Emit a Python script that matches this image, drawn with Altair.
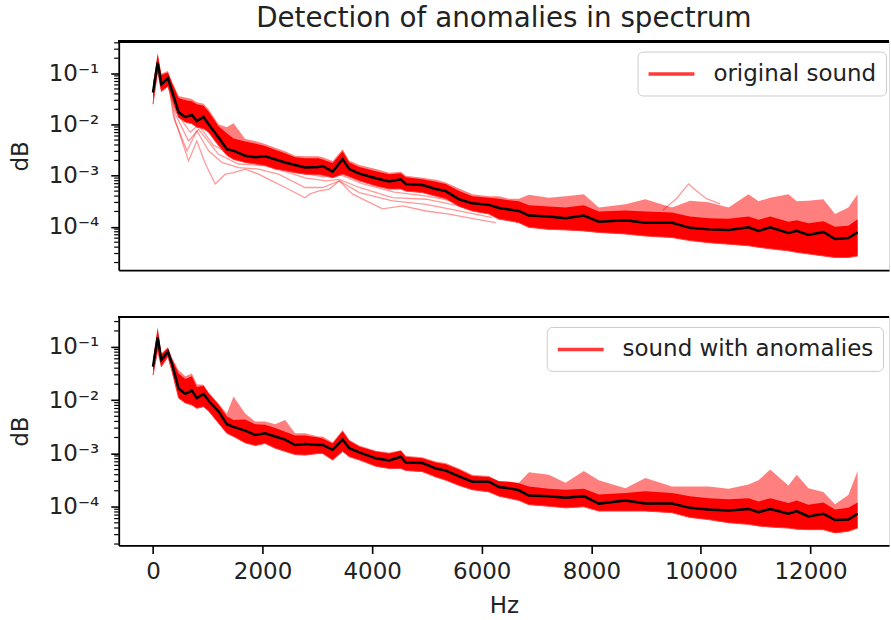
import altair as alt
import pandas as pd

# ---------------- data ----------------
# frequency grid (Hz) shared by both panels
hz = [0, 86, 153, 273, 346, 468, 590, 710, 801, 923,
      1015, 1197, 1348, 1470, 1683, 1865, 2047, 2230, 2412, 2594,
      2776, 3018, 3097, 3279, 3461, 3583, 3765, 4069, 4311, 4524,
      4615, 4918, 5162, 5344, 5587, 5830, 6133, 6315, 6497, 6679,
      6861, 7225, 7530, 7863, 8137, 8623, 8987, 9472, 9800, 10140,
      10505, 10869, 11051, 11264, 11597, 11749, 11962, 12235, 12448, 12691,
      12860]

# all series below are log10 of the value read on the log axis
top_mean_log = [-1.37, -0.785, -1.21, -1.09, -1.34,
                -1.76, -1.85, -1.81, -1.93, -1.85,
                -1.99, -2.25, -2.48, -2.51, -2.61,
                -2.64, -2.62, -2.68, -2.74, -2.79,
                -2.84, -2.83, -2.81, -2.92, -2.68,
                -2.87, -2.96, -3.05, -3.11, -3.07,
                -3.16, -3.18, -3.26, -3.30, -3.46,
                -3.54, -3.57, -3.63, -3.66, -3.69,
                -3.78, -3.80, -3.83, -3.78, -3.90,
                -3.87, -3.92, -3.92, -4.02, -4.05,
                -4.06, -4.01, -4.08, -4.01, -4.12,
                -4.08, -4.16, -4.10, -4.24, -4.22,
                -4.11]
top_upper_log = [-1.20, -0.59, -1.00, -0.95, -1.15,
                 -1.44, -1.47, -1.50, -1.56, -1.59,
                 -1.70, -1.99, -2.05, -1.97, -2.28,
                 -2.32, -2.38, -2.45, -2.52, -2.61,
                 -2.62, -2.62, -2.64, -2.71, -2.48,
                 -2.70, -2.79, -2.87, -2.94, -2.92,
                 -3.00, -3.04, -3.08, -3.13, -3.25,
                 -3.36, -3.40, -3.40, -3.45, -3.45,
                 -3.37, -3.43, -3.40, -3.36, -3.62,
                 -3.56, -3.46, -3.62, -3.49, -3.52,
                 -3.62, -3.36, -3.50, -3.43, -3.36,
                 -3.50, -3.49, -3.46, -3.75, -3.62,
                 -3.36]
top_core_log = [-1.22, -0.62, -1.03, -0.98, -1.18,
                -1.48, -1.52, -1.54, -1.60, -1.63,
                -1.74, -2.03, -2.17, -2.27, -2.33,
                -2.37, -2.42, -2.49, -2.56, -2.64,
                -2.66, -2.66, -2.68, -2.75, -2.52,
                -2.74, -2.83, -2.91, -2.97, -2.95,
                -3.03, -3.07, -3.12, -3.16, -3.30,
                -3.40, -3.43, -3.45, -3.48, -3.50,
                -3.58, -3.60, -3.62, -3.58, -3.70,
                -3.68, -3.70, -3.72, -3.80, -3.83,
                -3.84, -3.80, -3.86, -3.80, -3.90,
                -3.87, -3.93, -3.89, -4.00, -3.98,
                -3.85]
top_lower_log = [-1.60, -0.95, -1.35, -1.25, -1.50,
                 -1.86, -1.95, -1.98, -2.05, -2.08,
                 -2.15, -2.41, -2.60, -2.68, -2.74,
                 -2.77, -2.80, -2.87, -2.90, -2.94,
                 -2.97, -2.98, -2.99, -3.04, -2.97,
                 -3.02, -3.10, -3.20, -3.26, -3.26,
                 -3.30, -3.33, -3.40, -3.45, -3.60,
                 -3.69, -3.75, -3.85, -3.88, -3.92,
                 -4.01, -4.05, -4.06, -4.08, -4.11,
                 -4.14, -4.18, -4.21, -4.27, -4.31,
                 -4.34, -4.37, -4.40, -4.43, -4.47,
                 -4.50, -4.53, -4.57, -4.60, -4.60,
                 -4.57]

# separate faint spectra of the top panel (Hz, log10 value)
top_outliers = {
    "A": [(300, -1.30), (408, -1.93), (650, -2.71), (800, -2.32), (950, -2.75), (1136, -3.16),
          (1318, -2.97), (1470, -2.94), (1683, -2.87), (1925, -2.97), (2170, -3.10),
          (2412, -3.23), (2776, -3.43), (2855, -3.36), (3018, -3.30), (3219, -3.26),
          (3400, -3.10), (3643, -3.36), (4190, -3.65), (4554, -3.59), (4985, -3.69),
          (5405, -3.75), (5890, -3.85), (6255, -3.92)],
    "B": [(290, -1.25), (377, -1.86), (620, -2.51), (801, -2.12), (1015, -2.51), (1257, -2.74),
          (1561, -2.84), (1925, -2.87), (2290, -2.97), (2776, -3.23), (3097, -3.23),
          (3400, -3.10), (3765, -3.33), (4372, -3.49), (4985, -3.56), (5587, -3.69),
          (6194, -3.82)],
    "C": [(280, -1.20), (408, -1.79), (650, -2.32), (832, -2.09), (1197, -2.58), (1561, -2.77),
          (2108, -2.81), (2776, -3.04), (3158, -3.10), (3400, -3.07), (3765, -3.23),
          (4372, -3.43), (4985, -3.46), (5587, -3.59), (6255, -3.75)],
    "D": [(280, -1.18), (420, -1.75), (680, -2.15), (830, -2.00), (1100, -2.40), (1500, -2.62),
          (2000, -2.72), (2600, -2.92), (3100, -3.02), (3420, -2.98), (3800, -3.15),
          (4400, -3.32), (5000, -3.40), (5600, -3.52), (6200, -3.70)],
    "E": [(9300, -3.68), (9550, -3.45), (9776, -3.16), (9900, -3.28), (10100, -3.45),
          (10350, -3.55)],
}

bot_mean_log = [-1.37, -0.82, -1.24, -1.09, -1.31,
                -1.78, -1.88, -1.82, -1.96, -1.88,
                -2.01, -2.21, -2.45, -2.50, -2.57,
                -2.65, -2.62, -2.68, -2.74, -2.84,
                -2.82, -2.84, -2.84, -2.93, -2.74,
                -2.90, -2.98, -3.09, -3.13, -3.06,
                -3.17, -3.18, -3.28, -3.32, -3.43,
                -3.53, -3.53, -3.63, -3.65, -3.69,
                -3.79, -3.80, -3.83, -3.80, -3.94,
                -3.88, -3.94, -3.94, -4.02, -4.05,
                -4.07, -4.04, -4.10, -4.04, -4.13,
                -4.08, -4.18, -4.13, -4.25, -4.24,
                -4.13]
bot_upper_log = [-1.21, -0.62, -1.12, -1.00, -1.20,
                 -1.43, -1.55, -1.50, -1.70, -1.71,
                 -1.85, -2.06, -2.25, -1.93, -2.25,
                 -2.40, -2.40, -2.45, -2.37, -2.62,
                 -2.62, -2.68, -2.68, -2.79, -2.56,
                 -2.74, -2.85, -2.95, -2.98, -2.94,
                 -3.04, -3.07, -3.15, -3.18, -3.28,
                 -3.40, -3.42, -3.52, -3.53, -3.55,
                 -3.35, -3.40, -3.55, -3.33, -3.50,
                 -3.65, -3.46, -3.62, -3.62, -3.62,
                 -3.66, -3.58, -3.50, -3.30, -3.60,
                 -3.40, -3.65, -3.72, -3.95, -3.78,
                 -3.33]
bot_core_log = [-1.25, -0.66, -1.14, -1.02, -1.22,
                -1.50, -1.60, -1.55, -1.75, -1.73,
                -1.87, -2.08, -2.30, -2.37, -2.36,
                -2.45, -2.46, -2.52, -2.59, -2.66,
                -2.66, -2.70, -2.72, -2.81, -2.58,
                -2.76, -2.87, -2.96, -3.00, -2.95,
                -3.06, -3.09, -3.17, -3.20, -3.30,
                -3.42, -3.44, -3.52, -3.53, -3.56,
                -3.62, -3.66, -3.68, -3.66, -3.77,
                -3.74, -3.71, -3.74, -3.80, -3.84,
                -3.86, -3.84, -3.90, -3.84, -3.93,
                -3.88, -3.96, -3.92, -4.05, -4.02,
                -3.92]
bot_lower_log = [-1.53, -1.06, -1.37, -1.18, -1.45,
                 -1.96, -2.05, -2.09, -2.15, -2.12,
                 -2.20, -2.43, -2.62, -2.68, -2.80,
                 -2.85, -2.81, -2.90, -2.96, -3.02,
                 -3.03, -3.00, -3.00, -3.12, -2.96,
                 -3.06, -3.12, -3.24, -3.28, -3.28,
                 -3.32, -3.34, -3.44, -3.50, -3.60,
                 -3.68, -3.72, -3.80, -3.84, -3.88,
                 -3.96, -3.99, -4.02, -4.00, -4.08,
                 -4.08, -4.08, -4.11, -4.20, -4.24,
                 -4.30, -4.33, -4.36, -4.38, -4.40,
                 -4.42, -4.43, -4.43, -4.49, -4.46,
                 -4.40]

x_ticks = [0, 2000, 4000, 6000, 8000, 10000, 12000]
y_major = [1e-4, 1e-3, 1e-2, 1e-1]
y_minor = [2e-5, 3e-5, 4e-5, 5e-5, 6e-5, 7e-5, 8e-5, 9e-5,
           2e-4, 3e-4, 4e-4, 5e-4, 6e-4, 7e-4, 8e-4, 9e-4,
           2e-3, 3e-3, 4e-3, 5e-3, 6e-3, 7e-3, 8e-3, 9e-3,
           2e-2, 3e-2, 4e-2, 5e-2, 6e-2, 7e-2, 8e-2, 9e-2,
           2e-1, 3e-1, 4e-1]

TITLE = "Detection of anomalies in spectrum"
LABEL_TOP = "original sound"
LABEL_BOT = "sound with anomalies"

# ---------------- styling ----------------
FONT = "DejaVu Sans"
FS = 23
TXT = "#222222"
W, H = 772, 229
X_DOMAIN = [-625, 13433]
TOP_YDOM = [10 ** -4.847, 10 ** -0.374]
BOT_YDOM = [10 ** -4.726, 10 ** -0.437]

LABEL_EXPR = ("datum.value < 0.0005 ? '10⁻⁴' : datum.value < 0.005 ? '10⁻³' : "
              "datum.value < 0.05 ? '10⁻²' : '10⁻¹'")


def to_val(logs):
    return [10.0 ** v for v in logs]


def panel(mean_log, upper_log, core_log, lower_log, outliers, label, ydom,
          legend_x, bottom, key):
    band = pd.DataFrame({"hz": hz, "upper": to_val(upper_log), "core": to_val(core_log),
                         "lower": to_val(lower_log), "mean": to_val(mean_log),
                         key: label})
    rows = []
    for k, pts in outliers.items():
        for h, v in pts:
            rows.append({"id": k, "hz": h, "v": 10.0 ** v})
    out_df = pd.DataFrame(rows if rows else [{"id": "none", "hz": 0, "v": 10.0 ** mean_log[0]}])

    xs = alt.Scale(domain=X_DOMAIN, nice=False, zero=False)
    ys = alt.Scale(type="log", domain=[ydom[0], ydom[1]], nice=False)
    if bottom:
        xax = alt.Axis(values=x_ticks, format="d", tickSize=8, tickWidth=1.6, tickColor="black",
                       domainColor="black", domainWidth=1.8, labelFont=FONT, labelFontSize=FS,
                       labelColor=TXT, labelPadding=7, grid=False, title="Hz", titleFont=FONT,
                       titleFontSize=FS, titleFontWeight="normal", titleColor=TXT,
                       titlePadding=11)
    else:
        xax = alt.Axis(labels=False, ticks=False, domainColor="black", domainWidth=1.8,
                       grid=False, title=None)
    yax = alt.Axis(values=y_major, labelExpr=LABEL_EXPR, tickSize=8, tickWidth=1.6,
                   tickColor="black", domainColor="black", domainWidth=1.8, labelFont=FONT,
                   labelFontSize=FS, labelColor=TXT, labelPadding=12, grid=False, title="dB",
                   titleFont=FONT, titleFontSize=FS, titleFontWeight="normal", titleColor=TXT,
                   titlePadding=16)

    X = alt.X("hz:Q", scale=xs, axis=xax)
    base = alt.Chart(band)
    outer = base.mark_area(color="#ff0000", opacity=0.5, clip=True).encode(
        x=X, y=alt.Y("upper:Q", scale=ys, axis=yax), y2="lower:Q")
    core = base.mark_area(color="#ff0000", opacity=1.0, clip=True).encode(
        x=X, y=alt.Y("core:Q", scale=ys, axis=yax), y2="lower:Q")
    faint = alt.Chart(out_df).mark_line(color="#ff0000", opacity=0.4 if outliers else 0.0,
                                        strokeWidth=1.3, clip=True).encode(
        x=X, y=alt.Y("v:Q", scale=ys, axis=yax), detail="id:N")
    leg = base.mark_line(strokeWidth=1, clip=True).encode(
        x=X, y=alt.Y("lower:Q", scale=ys, axis=yax),
        color=alt.Color(f"{key}:N", scale=alt.Scale(domain=[label], range=["#ff3a3a"]),
                        legend=alt.Legend(orient="none", legendX=legend_x, legendY=10,
                                          title=None, symbolType="M-1,0H3", symbolSize=529,
                                          symbolStrokeWidth=3.5, symbolOpacity=1,
                                          labelFont=FONT, labelFontSize=FS, labelColor=TXT,
                                          labelOffset=40, labelLimit=600, padding=9,
                                          strokeColor="#cccccc", fillColor="white",
                                          cornerRadius=5)))
    mean = base.mark_line(color="black", strokeWidth=2.5, clip=True).encode(
        x=X, y=alt.Y("mean:Q", scale=ys, axis=yax))
    minor_df = pd.DataFrame({"v": [m for m in y_minor if ydom[0] <= m <= ydom[1]]})
    minor = alt.Chart(minor_df).mark_rule(color="black", strokeWidth=1.2).encode(
        x=alt.value(-4.6), x2=alt.value(0), y=alt.Y("v:Q", scale=ys, axis=yax))
    spine = alt.Chart(minor_df).mark_rule(color="black", strokeWidth=1.8).encode(
        x=alt.value(0), x2=alt.value(W), y=alt.value(0))
    return alt.layer(outer, core, faint, leg, mean, minor, spine).properties(width=W, height=H)


top = panel(top_mean_log, top_upper_log, top_core_log, top_lower_log, top_outliers,
            LABEL_TOP, TOP_YDOM, 520, False, "series_top").properties(
    title=alt.TitleParams(TITLE, font=FONT, fontSize=27.8, fontWeight="normal", color=TXT,
                          anchor="middle", frame="group", offset=8))
bot = panel(bot_mean_log, bot_upper_log, bot_core_log, bot_lower_log, {},
            LABEL_BOT, BOT_YDOM, 429, True, "series_bot")

chart = alt.vconcat(top, bot, spacing=44).resolve_scale(color="independent").resolve_legend(
    color="independent").properties(
    padding={"left": 8, "top": 3, "right": 0, "bottom": 0}
).configure_view(strokeWidth=0).configure(background="white")

chart.save("out.html", embed_options={"renderer": "svg", "actions": False})
